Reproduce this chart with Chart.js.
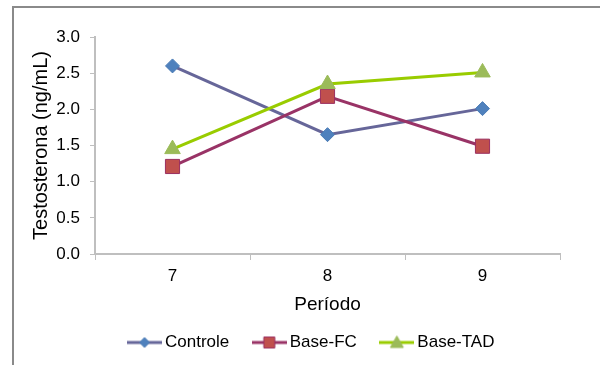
<!DOCTYPE html>
<html>
<head>
<meta charset="utf-8">
<script src="https://cdn.jsdelivr.net/npm/chart.js@4/dist/chart.umd.min.js"></script>
<style>
  html, body { margin: 0; padding: 0; background: #fff; }
  #wrap { position: relative; width: 600px; height: 365px; overflow: hidden; }
  #frame { position: absolute; left: 12px; top: 6px; width: 620px; height: 400px;
           border-left: 2px solid #8a8a8a; border-top: 2px solid #8a8a8a; }
  #c { position: absolute; left: 0; top: 0; }
</style>
</head>
<body>
<div id="wrap">
  <div id="frame"></div>
  <canvas id="c" width="600" height="365"></canvas>
</div>
<script>
// Testosterone by period for the three groups
const periods = ['7', '8', '9'];
const controle = [2.60, 1.65, 2.01];
const baseFC = [1.21, 2.18, 1.49];
const baseTAD = [1.45, 2.35, 2.51];
const yTicks = [0, 0.5, 1.0, 1.5, 2.0, 2.5, 3.0];

const FONT = '"Liberation Sans", Arial, sans-serif';

// Legend swatch: a short line with the series marker in the middle
function swatch(lineColor, style, fill, stroke) {
  const c = document.createElement('canvas');
  c.width = 35; c.height = 16;
  const g = c.getContext('2d');
  const cx = 17.5;
  g.strokeStyle = lineColor; g.lineWidth = 3;
  g.beginPath(); g.moveTo(0, 8); g.lineTo(35, 8); g.stroke();
  g.fillStyle = fill; g.strokeStyle = stroke; g.lineWidth = 1;
  g.beginPath();
  if (style === 'diamond') {
    g.moveTo(cx, 3); g.lineTo(cx + 5, 8); g.lineTo(cx, 13); g.lineTo(cx - 5, 8); g.closePath();
  } else if (style === 'square') {
    g.rect(cx - 5.5, 2.5, 11, 11);
  } else {
    g.moveTo(cx, 1.5); g.lineTo(cx + 6.5, 13); g.lineTo(cx - 6.5, 13); g.closePath();
  }
  g.fill(); g.stroke();
  return c;
}

const series = [
  { label: 'Controle', data: controle, line: '#666699', style: 'rectRot', r: 7,
    fill: '#4F81BD', stroke: '#4A7BB5', sw: 'diamond', order: 2 },
  { label: 'Base-FC', data: baseFC, line: '#993366', style: 'rect', r: 10,
    fill: '#C0504D', stroke: '#9B2F60', sw: 'square', order: 1 },
  { label: 'Base-TAD', data: baseTAD, line: '#99CC00', style: 'triangle', r: 9,
    fill: '#9BBB59', stroke: '#9BBB59', sw: 'triangle', order: 0 }
];

// Nudge the legend row so it sits centred under the plot area
const legendNudge = {
  id: 'legendNudge',
  afterLayout(chart) {
    const lg = chart.legend;
    if (lg) { lg.left += 19; lg.right += 19; }
  }
};

new Chart(document.getElementById('c'), {
  type: 'line',
  data: {
    labels: periods,
    datasets: series.map(s => ({
      label: s.label,
      data: s.data,
      order: s.order,
      borderColor: s.line,
      borderWidth: 3,
      pointStyle: s.style,
      pointRadius: s.r,
      pointHoverRadius: s.r,
      pointBackgroundColor: s.fill,
      pointBorderColor: s.stroke,
      pointBorderWidth: 1,
      tension: 0,
      fill: false,
      legendIcon: swatch(s.line, s.sw, s.fill, s.stroke)
    }))
  },
  plugins: [legendNudge],
  options: {
    responsive: false,
    animation: false,
    layout: { padding: { left: 29, right: 40, top: 37, bottom: 4 } },
    plugins: {
      tooltip: { enabled: false },
      legend: {
        position: 'bottom',
        labels: {
          font: { family: FONT, size: 17 },
          color: '#000',
          usePointStyle: true,
          pointStyleWidth: 24,
          padding: 28,
          generateLabels(chart) {
            return chart.data.datasets.map((d, i) => ({
              text: d.label,
              pointStyle: d.legendIcon,
              fillStyle: d.pointBackgroundColor,
              strokeStyle: d.borderColor,
              lineWidth: 0,
              hidden: false,
              datasetIndex: i,
              fontColor: '#000'
            }));
          }
        }
      }
    },
    scales: {
      x: {
        type: 'category',
        offset: true,
        grid: { display: true, drawOnChartArea: false, offset: true, tickLength: 6, color: '#bfbfbf' },
        border: { color: '#bfbfbf', width: 2 },
        ticks: { font: { family: FONT, size: 17 }, color: '#000', padding: 6 },
        title: { display: true, text: 'Período', font: { family: FONT, size: 19 }, color: '#000', padding: { top: 0, bottom: -10 } },
        afterFit(scale) { scale.height = 52; }
      },
      y: {
        min: 0, max: 3,
        afterBuildTicks(scale) { scale.ticks = yTicks.map(v => ({ value: v })); },
        grid: { display: true, drawOnChartArea: false, tickLength: 5, color: '#bfbfbf' },
        border: { color: '#bfbfbf', width: 2 },
        ticks: { font: { family: FONT, size: 17 }, color: '#000', padding: 10,
                 callback: v => Number(v).toFixed(1) },
        title: { display: true, text: 'Testosterona (ng/mL)', font: { family: FONT, size: 20 }, color: '#000', padding: { top: 0, bottom: 0 } },
        afterFit(scale) { scale.width = 66; }
      }
    }
  }
});
</script>
</body>
</html>
